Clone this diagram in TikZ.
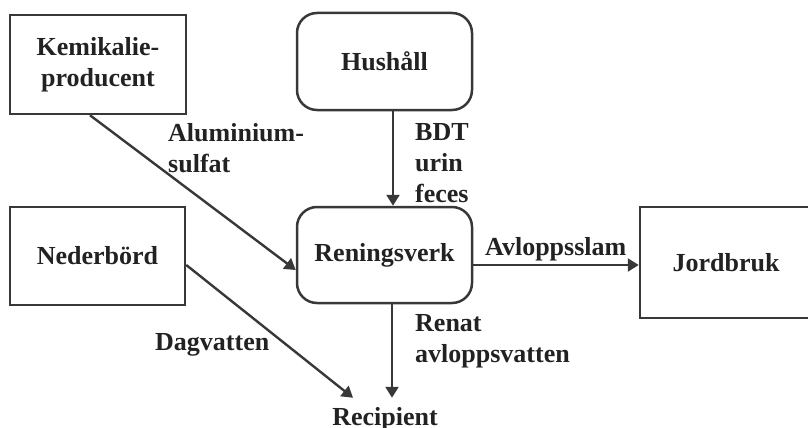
\documentclass[tikz,border=0pt]{standalone}
\usepackage{fontspec}
\setmainfont{Liberation Serif}
\usetikzlibrary{arrows.meta}
\definecolor{ink}{HTML}{383838}
\definecolor{txt}{HTML}{222222}
\begin{document}
\begin{tikzpicture}[x=1pt,y=-1pt,
  every node/.style={font=\fontsize{26}{31}\selectfont\bfseries, text=txt},
  sqbox/.style={draw=ink, line width=2.5pt, inner sep=0pt, align=center},
  rbox/.style={sqbox, rounded corners=20pt},
  flow/.style={draw=ink, line width=2.4pt, -{Triangle[length=11pt,width=13pt]}},
  tag/.style={align=left, anchor=base west, inner sep=0pt}
]
\useasboundingbox (0,0) rectangle (808,428);

% actors and the treatment plant
\node[sqbox, minimum width=176pt, minimum height=99pt] (kem) at (98,64.5) {Kemikalie-\\producent};
\node[rbox, minimum width=175pt, minimum height=97pt] (hus) at (384.5,61.5) {Hushåll};
\node[rbox, minimum width=175pt, minimum height=96pt] (ren) at (384.5,255) {Reningsverk};
\node[sqbox, minimum width=175pt, minimum height=98pt] (ned) at (97.5,256) {Nederbörd};
\node[sqbox, minimum width=172pt, minimum height=111pt] (jord) at (726,262.5) {Jordbruk};
\node[inner xsep=0pt, inner ysep=9pt, anchor=base] (rec) at (385,425) {Recipient};

% flows
\draw[flow] ([xshift=-8pt]kem.south) -- ([yshift=-15pt]ren.west);
\draw[flow] ([xshift=8.5pt]hus.south) -- ([xshift=8.5pt]ren.north);
\draw[flow] ([yshift=-10pt]ren.east) -- ([yshift=-10pt]ren.east -| jord.west);
\coordinate (rs) at ([xshift=7.5pt]ren.south);
\draw[flow] (rs) -- (rs |- rec.north);
\draw[flow] ([yshift=-9pt]ned.east) -- ([xshift=-32pt]rec.north);

% flow labels (anchored at the baseline of their last line)
\node[tag] (alu) at (168,172) {Aluminium-\\sulfat};
\node[tag] (bdt) at (415,202) {BDT\\urin\\feces};
\node[tag] (slam) at (485,255) {Avloppsslam};
\node[tag] (renat) at (415,362) {Renat\\avloppsvatten};
\node[tag] (dag) at (155,350) {Dagvatten};
\end{tikzpicture}
\end{document}
